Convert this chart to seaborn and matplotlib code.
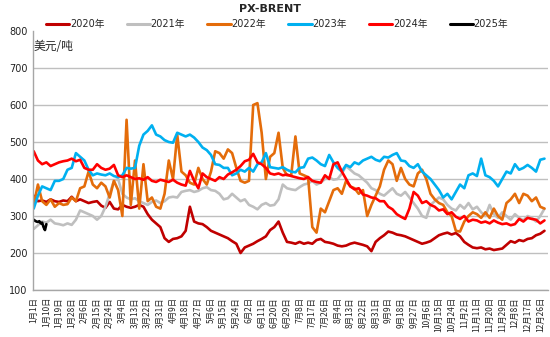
import numpy as np
import pandas as pd
import matplotlib
matplotlib.use("Agg")
import matplotlib.pyplot as plt
import seaborn as sns
from matplotlib.ticker import MultipleLocator

sample_days = list(range(0, 366, 3))

v2020 = [355, 340, 342, 338, 345, 340, 338, 342, 340, 352, 340, 345, 340, 335, 338, 340,
         328, 322, 338, 320, 318, 330, 325, 322, 325, 330, 325, 305, 290, 280, 270, 240,
         230, 238, 240, 245, 260, 325, 285, 280, 278, 270, 260, 255, 250, 245, 240, 232,
         225, 200, 215, 220, 225, 232, 238, 245, 262, 270, 285, 255, 230, 228, 225, 230,
         225, 228, 225, 235, 238, 230, 228, 225, 220, 218, 220, 225, 228, 225, 222, 218,
         205, 230, 240, 248, 258, 255, 250, 248, 245, 240, 235, 230, 225, 228, 232, 240,
         248, 252, 255, 250, 254, 245, 230, 222, 215, 213, 215, 210, 212, 208, 210, 212,
         222, 232, 228, 235, 232, 238, 240, 248, 252, 260]

v2021 = [265, 275, 285, 282, 290, 280, 278, 275, 280, 276, 290, 315, 310, 305, 300, 290,
         300, 325, 360, 395, 400, 360, 350, 345, 348, 340, 335, 330, 338, 342, 335, 340,
         350, 352, 350, 365, 368, 370, 365, 368, 375, 378, 370, 368, 360, 345, 348, 360,
         350, 340, 345, 330, 325, 318, 330, 335, 328, 330, 345, 385, 375, 372, 370, 378,
         385, 388, 395, 385, 390, 400, 405, 398, 400, 415, 435, 425, 415, 410, 400, 390,
         375, 370, 360, 355, 365, 375, 360, 355, 365, 350, 335, 320, 300, 295, 330, 340,
         350, 345, 330, 320, 315, 330, 320, 335, 318, 325, 310, 300, 330, 305, 295, 310,
         300, 290, 305, 295, 288, 300, 295, 285, 300, 320]

v2022 = [330, 385, 340, 330, 345, 325, 335, 330, 332, 350, 340, 375, 380, 420, 385, 375,
         390, 380, 350, 395, 370, 300, 560, 330, 450, 320, 440, 340, 350, 325, 320, 360,
         450, 400, 520, 420, 410, 390, 385, 430, 400, 385, 420, 475, 470, 455, 480, 470,
         430, 395, 390, 395, 600, 605, 525, 400, 460, 470, 525, 430, 410, 410, 515, 415,
         410, 405, 270, 255, 320, 310, 340, 370, 375, 360, 395, 380, 375, 360, 370, 300,
         330, 355, 380, 425, 450, 440, 395, 430, 400, 385, 380, 415, 425, 400, 360, 345,
         335, 330, 310, 300, 260, 258, 285, 300, 310, 305, 295, 310, 295, 320, 300, 290,
         335, 345, 360, 335, 360, 355, 340, 350, 325, 320]

v2023 = [320, 355, 380, 375, 370, 395, 395, 400, 425, 430, 470, 460, 450, 425, 410, 415,
         412, 410, 415, 408, 405, 410, 430, 428, 430, 490, 520, 530, 545, 520, 515, 505,
         500, 498, 525, 520, 515, 520, 512, 500, 485, 478, 465, 440, 438, 430, 430, 410,
         415, 425, 420, 430, 420, 440, 445, 470, 432, 430, 428, 432, 425, 420, 418, 430,
         432, 455, 458, 450, 440, 435, 465, 445, 430, 420, 438, 432, 445, 440, 450, 455,
         460, 452, 448, 460, 458, 465, 470, 450, 448, 435, 430, 440, 420, 410, 400, 385,
         370, 350, 360, 345, 365, 385, 375, 410, 415, 408, 455, 410, 405, 395, 380, 400,
         420, 415, 440, 425, 430, 438, 430, 420, 452, 455]

v2024 = [475, 450, 440, 445, 435, 440, 445, 448, 450, 455, 448, 452, 430, 425, 425, 440,
         430, 425, 428, 438, 410, 405, 410, 405, 400, 402, 398, 405, 395, 392, 398, 395,
         392, 398, 390, 385, 382, 422, 395, 375, 415, 405, 400, 395, 405, 400, 412, 418,
         425, 435, 448, 452, 468, 445, 440, 430, 415, 412, 415, 410, 412, 408, 405, 402,
         400, 405, 395, 392, 390, 410, 400, 440, 445, 420, 400, 380, 372, 375, 358, 355,
         350, 348, 340, 340, 325, 318, 305, 298, 292, 320, 365, 355, 335, 340, 330, 325,
         315, 318, 305, 310, 298, 292, 300, 285, 290, 288, 282, 285, 280, 288, 282, 278,
         280, 275, 278, 292, 285, 295, 292, 290, 280, 288]

days_2025 = [0, 1, 2, 3, 4, 5, 6, 7, 8, 9]
v2025 = [290, 287, 285, 284, 286, 280, 282, 270, 262, 278]

series_names = ["2020年", "2021年", "2022年", "2023年", "2024年", "2025年"]
series_colors = ["#C00000", "#BFBFBF", "#E46C0A", "#00B0F0", "#FF0000", "#000000"]

y_ticks = [100, 200, 300, 400, 500, 600, 700, 800]
tick_days = list(range(0, 366, 9))
all_dates = pd.date_range("2024-01-01", periods=366)
tick_labels = [f"{all_dates[d].month}月{all_dates[d].day}日" for d in tick_days]

title_text = "PX-BRENT"
unit_text = "美元/吨"

# ---------------- build long table ----------------
frames = []
for name, vals in zip(series_names[:5], [v2020, v2021, v2022, v2023, v2024]):
    assert len(vals) == len(sample_days), (name, len(vals))
    frames.append(pd.DataFrame({"day": sample_days, "value": vals, "series": name}))
frames.append(pd.DataFrame({"day": days_2025, "value": v2025, "series": series_names[5]}))
df = pd.concat(frames, ignore_index=True)

# ---------------- style ----------------
sns.set_style("white")
plt.rcParams["font.family"] = ["DejaVu Sans", "Noto Sans CJK SC"]

fig = plt.figure(figsize=(5.5, 3.37), dpi=100)
ax = fig.add_axes([33 / 550, 1 - 290 / 337, 515 / 550, 259 / 337])

sns.lineplot(data=df, x="day", y="value", hue="series", hue_order=series_names,
             palette=dict(zip(series_names, series_colors)), linewidth=1.9,
             estimator=None, sort=False, ax=ax)

ax.set_xlim(-0.5, 365.5)
ax.set_ylim(100, 800)
ax.set_yticks(y_ticks)
ax.set_xticks(tick_days)
ax.set_xticklabels(tick_labels, rotation=90, fontsize=6,
                   family=["Noto Sans CJK SC", "DejaVu Sans"])
ax.xaxis.set_minor_locator(MultipleLocator(1))
ax.tick_params(axis="x", which="major", length=3, color="#A6A6A6", pad=2)
ax.tick_params(axis="x", which="minor", length=2, color="#A6A6A6")
ax.tick_params(axis="y", labelsize=7, length=0, pad=4)
for lab in ax.get_yticklabels():
    lab.set_color("#222222")

ax.set_xlabel("")
ax.set_ylabel("")
ax.grid(axis="y", color="#BFBFBF", linewidth=1.0)
ax.set_axisbelow(True)
gl = ax.get_ygridlines()
gl[-1].set_visible(False)

for s in ["top", "right"]:
    ax.spines[s].set_visible(False)
for s in ["left", "bottom"]:
    ax.spines[s].set_color("#A6A6A6")
    ax.spines[s].set_linewidth(1.0)

ax.text(0.002, 0.942, unit_text, transform=ax.transAxes, fontsize=8.5,
        family=["Noto Sans CJK SC", "DejaVu Sans"], ha="left", va="center")

handles, labels = ax.get_legend_handles_labels()
leg = ax.legend(handles, labels, loc="center", bbox_to_anchor=(0.474, 1.027), ncol=6,
                frameon=False, fontsize=7, handlelength=2.4, handletextpad=0.05,
                columnspacing=2.3, borderaxespad=0, borderpad=0)
for t in leg.get_texts():
    t.set_family(["DejaVu Sans", "Noto Sans CJK SC"])
for h in leg.get_lines():
    h.set_linewidth(2.2)

fig.text(270 / 550, 1 - 9 / 337, title_text, ha="center", va="center",
         fontsize=8, fontweight="bold")

fig.savefig("out.png", dpi=100)
